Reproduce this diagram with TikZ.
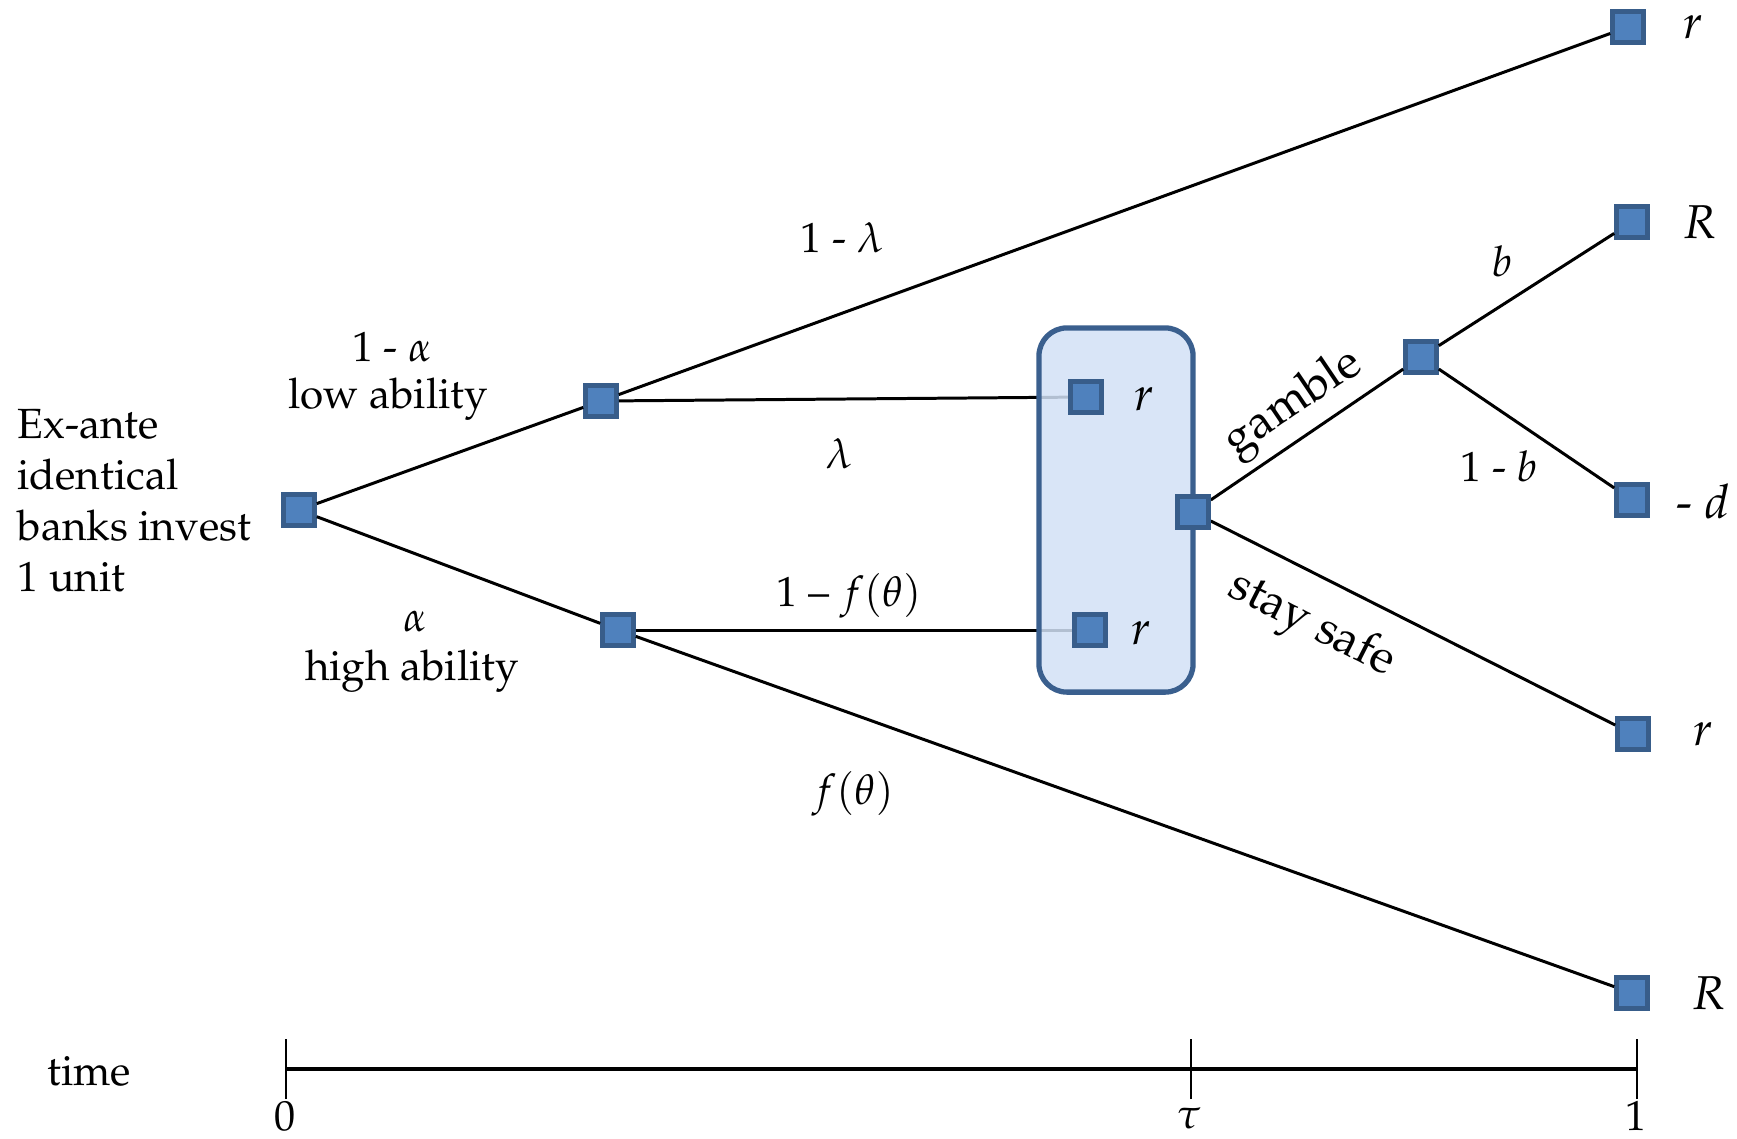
\documentclass[tikz,border=0pt]{standalone}
\usepackage[T1]{fontenc}
\usepackage{mathpazo}
\usepackage{tikz}
\usepackage{xcolor}
\definecolor{bleuNoeud}{RGB}{79,129,189}
\definecolor{bordNoeud}{RGB}{56,93,138}
\definecolor{bleuBoite}{RGB}{210,225,246}
\definecolor{bordBoite}{RGB}{58,95,142}
\tikzset{
Banque/.style={
 rectangle,
 draw=bordNoeud,
 fill=bleuNoeud,
 line width=1.3pt,
 minimum size=0.31cm,
 inner sep=0pt
 },
Branche/.style={
 draw=black,
 line width=0.85pt
 },
Texte/.style={
 inner sep=0pt,
 font=\fontsize{12}{14.5}\selectfont
 },
Grand/.style={
 inner sep=0pt,
 font=\fontsize{13.5}{16}\selectfont
 },
Boite/.style={
 rectangle,
 draw=bordBoite,
 fill=bleuBoite,
 fill opacity=0.85,
 line width=1.5pt,
 rounded corners=0.28cm,
 minimum width=1.54cm,
 minimum height=3.64cm
 },
Echelle/.style={
 draw=black,
 line width=1.1pt
 },
Trait/.style={
 draw=black,
 line width=0.7pt
 }
}

\begin{document}
\begin{tikzpicture}[x=0.01cm,y=-0.01cm]
\useasboundingbox (0,0) rectangle (1737,1138);
\node[Banque] (depart) at (299,510) {};
\node[Banque] (faible) at (601,401) {};
\node[Banque] (forte) at (618,630) {};
\node[Banque] (hautR) at (1628,27) {};
\node[Banque] (liqA) at (1086,397) {};
\node[Banque] (liqB) at (1090,630) {};
\node[Banque] (choix) at (1193,512) {};
\node[Banque] (pari) at (1421,357) {};
\node[Banque] (gain) at (1632,222) {};
\node[Banque] (perte) at (1632,500) {};
\node[Banque] (sur) at (1633,734) {};
\node[Banque] (basR) at (1632,993) {};
\draw[Branche] (depart) -- (faible);
\draw[Branche] (depart) -- (forte);
\draw[Branche] (faible) -- (hautR);
\draw[Branche] (faible) -- (liqA);
\draw[Branche] (forte) -- (liqB);
\draw[Branche] (forte) -- (basR);
\draw[Branche] (choix) -- (pari);
\draw[Branche] (choix) -- (sur);
\draw[Branche] (pari) -- (gain);
\draw[Branche] (pari) -- (perte);
\node[Boite] (ensemble) at (1116,510) {};
\node[Banque] at (liqA) {};
\node[Banque] at (liqB) {};
\node[Banque] at (choix) {};
\node[Texte,anchor=west,align=left] (banques) at (17,500) {Ex-ante\\identical\\banks invest\\1 unit};
\node[Texte] (unMoinsAlpha) at (392,347) {1 - $\alpha$};
\node[Texte] (basse) at (388,399) {low ability};
\node[Texte] (alpha) at (415,621) {$\alpha$};
\node[Texte] (haute) at (412,671) {high ability};
\node[Texte] (unMoinsLambda) at (842,238) {1 - $\lambda$};
\node[Texte] (lambda) at (839,454) {$\lambda$};
\node[Texte] (unMoinsF) at (849,596) {1 -- $f(\theta)$};
\node[Texte] (f) at (853,794) {$f(\theta)$};
\node[Texte] (b) at (1502,261) {$b$};
\node[Texte] (unMoinsB) at (1499,466) {1 - $b$};
\node[Grand,rotate=34] (jouer) at (1294,404) {gamble};
\node[Grand,rotate=-27] (prudent) at (1311,626) {stay safe};
\node[Grand] (valHaut) at (1693,27) {$r$};
\node[Grand] (valR) at (1700,222) {$R$};
\node[Grand] (valD) at (1703,501) {- $d$};
\node[Grand] (valSur) at (1703,734) {$r$};
\node[Grand] (valBas) at (1709,993) {$R$};
\node[Grand] (valA) at (1144,399) {$r$};
\node[Grand] (valB) at (1141,633) {$r$};
\coordinate (t0) at (286,1069);
\coordinate (tTau) at (1191,1069);
\coordinate (t1) at (1637,1069);
\draw[Echelle] (t0) -- (t1);
\draw[Trait] ([yshift=-0.3cm]t0) -- ([yshift=0.3cm]t0);
\draw[Trait] ([yshift=-0.3cm]tTau) -- ([yshift=0.3cm]tTau);
\draw[Trait] ([yshift=-0.3cm]t1) -- ([yshift=0.3cm]t1);
\node[Texte] (temps) at (89,1071) {time};
\node[Texte] (zero) at (285,1116) {0};
\node[Texte] (tau) at (1189,1118) {$\tau$};
\node[Texte] (un) at (1636,1116) {1};
\end{tikzpicture}
\end{document}
